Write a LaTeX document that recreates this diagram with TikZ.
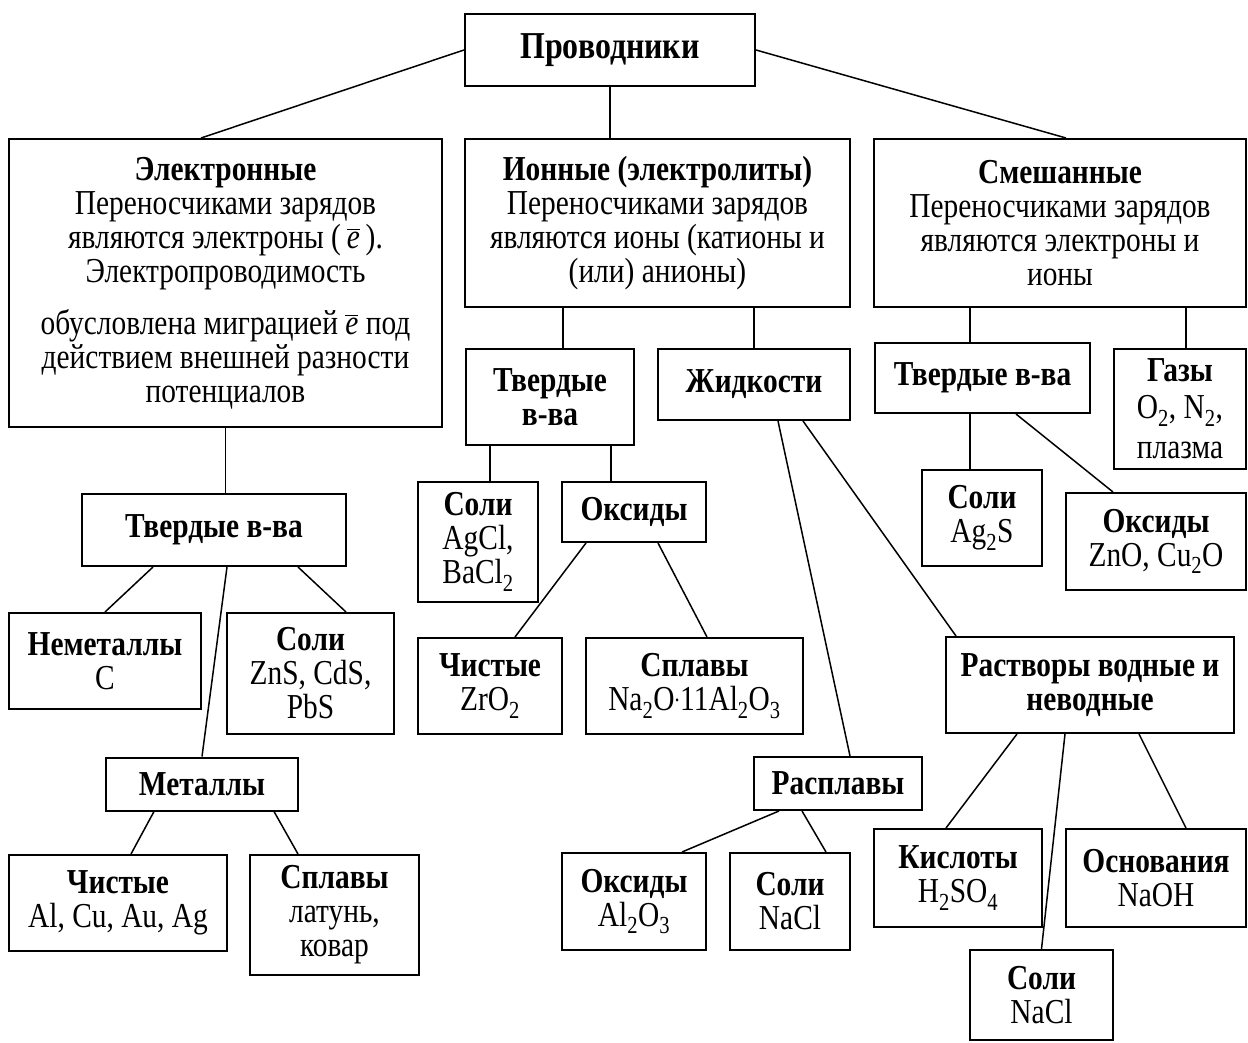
\documentclass[tikz,border=0pt]{standalone}
\usepackage{fontspec}
\setmainfont{Liberation Serif}[FakeStretch=0.84]
\usepackage{tikz}

\newcommand{\ebar}{$\overline{\vphantom{l}\textit{e}}$}

\begin{document}
\begin{tikzpicture}[x=1pt, y=-1pt,
    box/.style={draw, line width=2pt, align=center, inner sep=0pt, font=\fontsize{35}{34}\selectfont},
    sz/.style 2 args={minimum width=#1pt, minimum height=#2pt},
    link/.style={line width=1.5pt}]
  \useasboundingbox (0,0) rectangle (1248,1043);

  %draw top boxes
  \node[box, sz={290}{72}, font=\fontsize{38}{34}\selectfont] (root) at (610,50) {\textbf{Проводники}};
  \node[box, sz={433}{288}] (el) at (225.5,283) {\textbf{Электронные}\\ Переносчиками зарядов\\ являются электроны (\,\ebar\,).\\ Электропроводимость\\[18pt] обусловлена миграцией \ebar{} под\\ действием внешней разности\\ потенциалов};
  \node[box, sz={385}{168}] (ion) at (657.5,223) {\textbf{Ионные (электролиты)}\\ Переносчиками зарядов\\ являются ионы (катионы и\\ (или) анионы)};
  \node[box, sz={372}{168}] (mix) at (1060,223) {\textbf{Смешанные}\\ Переносчиками зарядов\\ являются электроны и\\ ионы};

  %draw electronic branch
  \node[box, sz={264}{72}] (eSolid) at (214,530) {\textbf{Твердые в-ва}};
  \node[box, sz={192}{96}] (nonmet) at (105,661) {\textbf{Неметаллы}\\ C};
  \node[box, sz={167}{121}] (eSalt) at (310.5,673.5) {\textbf{Соли}\\ ZnS, CdS,\\ PbS};
  \node[box, sz={192}{53}] (metal) at (202,784) {\textbf{Металлы}};
  \node[box, sz={218}{96}] (ePure) at (118,903) {\textbf{Чистые}\\ Al, Cu, Au, Ag};
  \node[box, sz={169}{120}] (eAlloy) at (334.5,915) {\textbf{Сплавы}\\ латунь,\\ ковар};

  %draw ionic branch
  \node[box, sz={168}{96}] (iSolid) at (550,397) {\textbf{Твердые}\\ \textbf{в-ва}};
  \node[box, sz={192}{71}] (liq) at (754,384.5) {\textbf{Жидкости}};
  \node[box, sz={120}{120}] (iSalt) at (478,542) {\textbf{Соли}\\ AgCl,\\ BaCl\textsubscript{2}};
  \node[box, sz={144}{60}] (iOx) at (634,512) {\textbf{Оксиды}};
  \node[box, sz={144}{96}] (iPure) at (490,686) {\textbf{Чистые}\\ ZrO\textsubscript{2}};
  \node[box, sz={217}{96}] (iAlloy) at (694.5,686) {\textbf{Сплавы}\\ Na\textsubscript{2}O\textsuperscript{.}11Al\textsubscript{2}O\textsubscript{3}};
  \node[box, sz={168}{53}] (melt) at (838,783.5) {\textbf{Расплавы}};
  \node[box, sz={144}{97}] (mOx) at (634,901.5) {\textbf{Оксиды}\\ Al\textsubscript{2}O\textsubscript{3}};
  \node[box, sz={120}{97}] (mSalt) at (790,901.5) {\textbf{Соли}\\ NaCl};
  \node[box, sz={288}{96}] (sol) at (1090,685) {\textbf{Растворы водные и}\\ \textbf{неводные}};
  \node[box, sz={168}{98}] (acid) at (958,878) {\textbf{Кислоты}\\ H\textsubscript{2}SO\textsubscript{4}};
  \node[box, sz={180}{98}] (base) at (1156,878) {\textbf{Основания}\\ NaOH};
  \node[box, sz={143}{90}] (sSalt) at (1041.5,995) {\textbf{Соли}\\ NaCl};

  %draw mixed branch
  \node[box, sz={215}{70}] (xSolid) at (982.5,378) {\textbf{Твердые в-ва}};
  \node[box, sz={132}{120}] (gas) at (1180,409) {\textbf{Газы}\\[3pt] O\textsubscript{2}, N\textsubscript{2},\\[6pt] плазма};
  \node[box, sz={120}{96}] (xSalt) at (982,518) {\textbf{Соли}\\ Ag\textsubscript{2}S};
  \node[box, sz={180}{97}] (xOx) at (1156,541.5) {\textbf{Оксиды}\\ ZnO, Cu\textsubscript{2}O};

  %draw links
  \draw[link] (root.west) -- ([xshift=-24.5pt]el.north);
  \draw[link] (root.east) -- ([xshift=6pt]mix.north);
  \draw[link] (root.south) -- (root.south |- ion.north);

  \draw[link] (el.south) -- (el.south |- eSolid.north);
  \draw[link] ([xshift=-61pt]eSolid.south) -- (nonmet.north);
  \draw[link] ([xshift=13pt]eSolid.south) -- (metal.north);
  \draw[link] ([xshift=84pt]eSolid.south) -- ([xshift=35.5pt]eSalt.north);
  \draw[link] ([xshift=-48pt]metal.south) -- ([xshift=13pt]ePure.north);
  \draw[link] ([xshift=72pt]metal.south) -- ([xshift=-36.5pt]eAlloy.north);

  \draw[link] ([xshift=-94.5pt]ion.south) -- ([xshift=13pt]iSolid.north);
  \draw[link] (liq.north) -- (liq.north |- ion.south);
  \draw[link] ([xshift=12pt]iSalt.north) -- ([xshift=12pt]iSalt.north |- iSolid.south);
  \draw[link] ([xshift=-23pt]iOx.north) -- ([xshift=-23pt]iOx.north |- iSolid.south);
  \draw[link] ([xshift=-48pt]iOx.south) -- ([xshift=25pt]iPure.north);
  \draw[link] ([xshift=24pt]iOx.south) -- ([xshift=12.5pt]iAlloy.north);
  \draw[link] ([xshift=24pt]liq.south) -- ([xshift=12pt]melt.north);
  \draw[link] ([xshift=49pt]liq.south) -- ([xshift=11pt]sol.north west);
  \draw[link] ([xshift=-59pt]melt.south) -- ([xshift=48pt]mOx.north);
  \draw[link] ([xshift=-36pt]melt.south) -- ([xshift=36pt]mSalt.north);
  \draw[link] ([xshift=-73pt]sol.south) -- ([xshift=-12pt]acid.north);
  \draw[link] ([xshift=-25pt]sol.south) -- (sSalt.north);
  \draw[link] ([xshift=49pt]sol.south) -- ([xshift=30pt]base.north);

  \draw[link] ([xshift=-12.5pt]xSolid.north) -- ([xshift=-12.5pt]xSolid.north |- mix.south);
  \draw[link] ([xshift=6pt]gas.north) -- ([xshift=6pt]gas.north |- mix.south);
  \draw[link] ([xshift=-12pt]xSalt.north) -- ([xshift=-12pt]xSalt.north |- xSolid.south);
  \draw[link] ([xshift=33.5pt]xSolid.south) -- ([xshift=-43pt]xOx.north);
\end{tikzpicture}
\end{document}
